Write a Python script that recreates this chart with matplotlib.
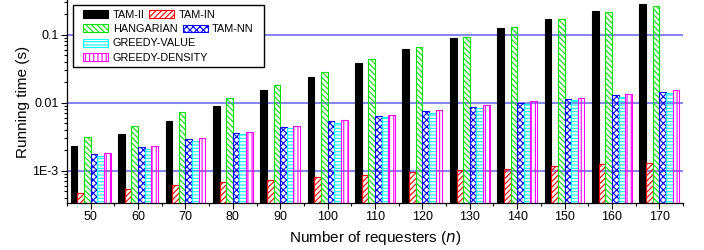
import numpy as np
import matplotlib
matplotlib.use('Agg')
import matplotlib.pyplot as plt
from matplotlib.patches import Patch, Rectangle
from matplotlib.ticker import FixedLocator, LogLocator, NullFormatter

plt.rcParams['font.family'] = ['Liberation Sans', 'DejaVu Sans']
plt.rcParams['hatch.linewidth'] = 0.8

# data
n_requesters = [50, 60, 70, 80, 90, 100, 110, 120, 130, 140, 150, 160, 170]
tam_ii = [2.31e-3, 3.47e-3, 5.43e-3, 8.93e-3, 0.0154, 0.0236, 0.0389, 0.061, 0.0886, 0.124, 0.168, 0.221, 0.28]
tam_in = [4.54e-4, 5.33e-4, 5.96e-4, 6.75e-4, 7.3e-4, 8.07e-4, 8.65e-4, 9.57e-4, 1.02e-3, 1.05e-3, 1.17e-3, 1.26e-3, 1.3e-3]
hangarian = [3.1e-3, 4.54e-3, 7.23e-3, 0.0119, 0.0182, 0.028, 0.0435, 0.0653, 0.0925, 0.128, 0.168, 0.213, 0.264]
tam_nn = [1.76e-3, 2.25e-3, 2.9e-3, 3.55e-3, 4.43e-3, 5.38e-3, 6.31e-3, 7.48e-3, 8.56e-3, 9.9e-3, 0.0112, 0.0128, 0.0144]
greedy_value = [1.62e-3, 2.09e-3, 2.75e-3, 3.47e-3, 4.25e-3, 5.09e-3, 6.1e-3, 7.15e-3, 8.36e-3, 9.57e-3, 0.0108, 0.0123, 0.0137]
greedy_density = [1.8e-3, 2.33e-3, 2.98e-3, 3.67e-3, 4.6e-3, 5.57e-3, 6.5e-3, 7.7e-3, 9.16e-3, 0.0105, 0.0117, 0.0136, 0.0154]

series = [
    ('TAM-II', tam_ii, 'black', 'black', None),
    ('TAM-IN', tam_in, 'none', 'red', '//////'),
    ('HANGARIAN', hangarian, 'none', '#00e000', '\\\\\\\\\\\\'),
    ('TAM-NN', tam_nn, 'none', 'blue', 'xxxxx'),
    ('GREEDY-VALUE', greedy_value, 'none', 'cyan', '-----'),
    ('GREEDY-DENSITY', greedy_density, 'none', 'magenta', '||||'),
]

W, H = 704, 250
fig = plt.figure(figsize=(W / 100, H / 100), dpi=100)
ax = fig.add_axes([67 / W, 1 - 203 / H, (683 - 67) / W, 203 / H])

x = np.array(n_requesters, dtype=float)
bw = 1.4
handles = {}
for i, (name, vals, fc, ec, hatch) in enumerate(series):
    ax.bar(x + (i - 2.5) * bw, vals, width=bw, bottom=1e-5, facecolor=fc,
           edgecolor=ec, hatch=hatch, linewidth=0.8, zorder=3)
    handles[name] = Patch(facecolor=fc, edgecolor=ec, hatch=hatch, linewidth=0.8)

ax.set_yscale('log')
ax.set_ylim(3.35e-4, 0.324)
ax.set_xlim(45, 175)

for g in [1e-3, 1e-2, 1e-1]:
    ax.axhline(g, color='#6f6ff0', linewidth=1.2, zorder=1)

ax.set_xticks(n_requesters)
ax.set_xticklabels([str(v) for v in n_requesters])
ax.xaxis.set_minor_locator(FixedLocator(np.arange(45, 176, 10)))
ax.set_yticks([1e-3, 1e-2, 1e-1])
ax.set_yticklabels(['1E-3', '0.01', '0.1'])
ax.yaxis.set_minor_locator(LogLocator(base=10, subs=np.arange(2, 10)))
ax.yaxis.set_minor_formatter(NullFormatter())
ax.tick_params(which='major', direction='out', length=4, width=0.8, labelsize=9, pad=2)
ax.tick_params(which='minor', direction='out', length=2, width=0.8)

for s in ['top', 'right']:
    ax.spines[s].set_visible(False)
for s in ['left', 'bottom']:
    ax.spines[s].set_linewidth(0.9)

ax.set_xlabel('Number of requesters ($\\it{n}$)', fontsize=11, labelpad=4)
ax.set_ylabel('Running time (s)', fontsize=11, labelpad=2)

# legend laid out like the original (frame drawn by hand)
fig.patches.append(Rectangle((72.7 / W, 1 - 67.3 / H), (264 - 72.7) / W, (67.3 - 4.7) / H,
                             transform=fig.transFigure, facecolor='white',
                             edgecolor='black', linewidth=1.0, zorder=5))
leg_kw = dict(frameon=False, borderpad=0, borderaxespad=0, fontsize=7.8,
              handlelength=2.3, handleheight=0.75, handletextpad=0.42,
              labelspacing=0.4, bbox_transform=fig.transFigure, loc='center left')
col1 = ['TAM-II', 'HANGARIAN', 'GREEDY-VALUE', 'GREEDY-DENSITY']
l1 = fig.legend([handles[k] for k in col1], col1, bbox_to_anchor=(83.3 / W, 1 - 36.2 / H), **leg_kw)
l2 = fig.legend([handles['TAM-IN']], ['TAM-IN'], bbox_to_anchor=(149 / W, 1 - 15 / H), **leg_kw)
l3 = fig.legend([handles['TAM-NN']], ['TAM-NN'], bbox_to_anchor=(182.7 / W, 1 - 29.3 / H), **leg_kw)
for l in (l1, l2, l3):
    l.set_zorder(6)

fig.savefig('out.png', dpi=100)
